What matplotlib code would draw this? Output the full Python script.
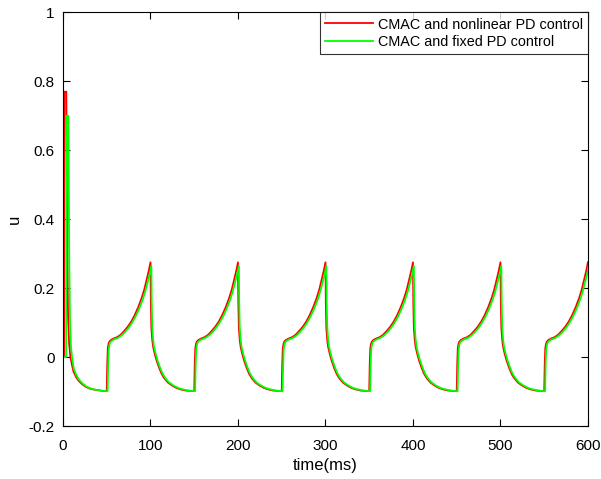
import matplotlib.pyplot as plt

plt.rcParams['font.family'] = ['Liberation Sans', 'DejaVu Sans']

# ---- data ----
period = 100
n_cycles = 6

# start-up transient (0-50 ms)
red_start_t = [0, 1.2, 1.6, 3.8, 4.8, 5.8, 7.0, 8.5, 10, 12, 15, 18, 22, 26, 30, 35, 40, 45]
red_start_u = [0, 0, 0.77, 0.77, 0.35, 0.12, 0.04, 0.0, -0.02, -0.042, -0.058, -0.069, -0.079, -0.086, -0.091, -0.094, -0.096, -0.098]
green_start_t = [0, 3.6, 4.0, 6.2, 7.0, 8.0, 9.0, 10.5, 12.5, 15.5, 18.5, 22.5, 26.5, 30.5, 35.5, 40.5, 45.5]
green_start_u = [0, 0, 0.70, 0.70, 0.33, 0.11, 0.035, -0.005, -0.035, -0.054, -0.066, -0.077, -0.085, -0.09, -0.094, -0.096, -0.098]

# decay after each peak (offset from the peak time)
red_dec_t = [0, 0.4, 1, 2, 3, 5, 7, 10, 13, 16, 20, 25, 30, 35, 40, 45]
red_dec_u = [0.275, 0.16, 0.085, 0.05, 0.03, 0.008, -0.01, -0.032, -0.05, -0.062, -0.074, -0.083, -0.09, -0.094, -0.097, -0.098]
green_dec_t = [1, 1.4, 2, 3, 4, 6, 8, 11, 14, 17, 21, 26, 31, 36, 41, 46]
green_dec_u = [0.265, 0.16, 0.088, 0.052, 0.031, 0.009, -0.009, -0.031, -0.049, -0.061, -0.073, -0.082, -0.089, -0.093, -0.096, -0.098]

# jump at mid-period and rise to the next peak
red_rise_t = [50, 50.6, 51.2, 52, 53, 55, 58, 62, 66, 70, 74, 78, 82, 86, 90, 93, 96, 98, 99.9]
red_rise_u = [-0.099, -0.02, 0.025, 0.038, 0.045, 0.05, 0.054, 0.058, 0.065, 0.076, 0.088, 0.103, 0.122, 0.145, 0.172, 0.197, 0.228, 0.25, 0.275]
green_rise_t = [51, 51.6, 52.2, 53, 54, 56, 59, 63, 67, 71, 75, 79, 83, 87, 91, 94, 97, 99, 100.9]
green_rise_u = [-0.099, -0.025, 0.02, 0.035, 0.043, 0.048, 0.052, 0.056, 0.063, 0.073, 0.085, 0.1, 0.118, 0.14, 0.166, 0.19, 0.22, 0.24, 0.265]


def build(start_t, start_u, dec_t, dec_u, rise_t, rise_u):
    t = list(start_t)
    u = list(start_u)
    for k in range(n_cycles):
        if k > 0:
            t += [k * period + x for x in dec_t]
            u += list(dec_u)
        t += [k * period + x for x in rise_t]
        u += list(rise_u)
    return t, u


red_t, red_u = build(red_start_t, red_start_u, red_dec_t, red_dec_u, red_rise_t, red_rise_u)
green_t, green_u = build(green_start_t, green_start_u, green_dec_t, green_dec_u, green_rise_t, green_rise_u)

x_ticks = [0, 100, 200, 300, 400, 500, 600]
y_ticks = [-0.2, 0, 0.2, 0.4, 0.6, 0.8, 1]
y_tick_labels = ['-0.2', '0', '0.2', '0.4', '0.6', '0.8', '1']

fig = plt.figure(figsize=(6.01, 4.79), dpi=100)
ax = fig.add_axes([0.1048, 0.1106, 0.8735, 0.8634])
ax.plot(red_t, red_u, color='#ff0000', lw=1.3, label='CMAC and nonlinear PD control')
ax.plot(green_t, green_u, color='#00ff00', lw=1.3, label='CMAC and fixed PD control')

ax.set_xlim(0, 600)
ax.set_ylim(-0.2, 1)
ax.set_xticks(x_ticks)
ax.set_xticklabels([str(v) for v in x_ticks])
ax.set_yticks(y_ticks)
ax.set_yticklabels(y_tick_labels)
ax.tick_params(direction='in', top=True, right=True, length=5, width=0.8, labelsize=11)
ax.tick_params(axis='x', pad=9)
ax.tick_params(axis='y', pad=6)
for s in ax.spines.values():
    s.set_linewidth(0.8)
ax.set_xlabel('time(ms)', fontsize=12, labelpad=4)
ax.set_ylabel('u', fontsize=12, labelpad=5)

leg = ax.legend(loc='upper right', fontsize=10.4, frameon=True, fancybox=False,
                borderaxespad=0, handlelength=3.3, handletextpad=0.35, borderpad=0.35,
                labelspacing=0.25)
leg.get_frame().set_edgecolor('black')
leg.get_frame().set_linewidth(0.8)

plt.savefig('out.png', dpi=100)
